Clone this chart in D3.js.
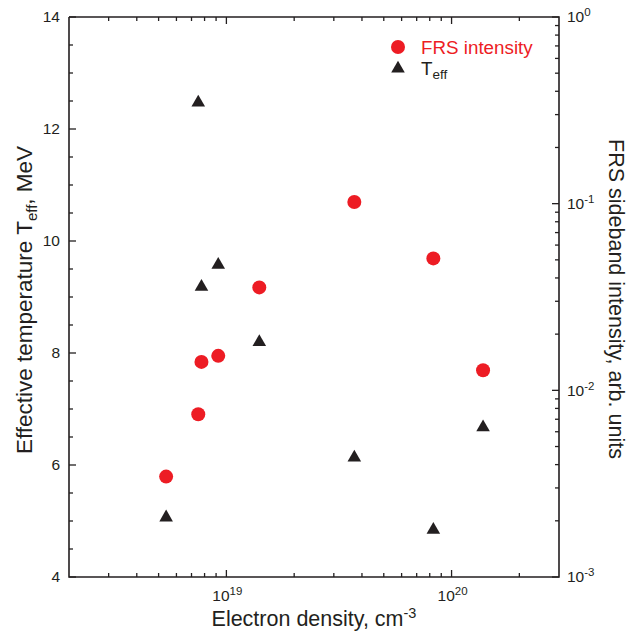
<!DOCTYPE html>
<html>
<head>
<meta charset="utf-8">
<script src="https://cdn.jsdelivr.net/npm/d3@7/dist/d3.min.js"></script>
<style>
  html, body { margin: 0; padding: 0; background: #fff; }
  svg { display: block; font-family: "Liberation Sans", Arial, Helvetica, sans-serif; }
</style>
</head>
<body>
<svg id="chart" width="631" height="633"></svg>
<script>
// ---- data ----
const density = [5.4e18, 7.5e18, 7.75e18, 9.2e18, 1.4e19, 3.7e19, 8.3e19, 1.38e20];
const frsIntensity = [0.00345, 0.00744, 0.0142, 0.0153, 0.0356, 0.102, 0.0509, 0.0128];
const tEff = [5.09, 12.5, 9.21, 9.6, 8.22, 6.16, 4.87, 6.70];

const xMajorExps = [19, 20];
const leftTicks = [4, 6, 8, 10, 12, 14];
const rightMajorExps = [-3, -2, -1, 0];

const xTitle = "Electron density, cm";
const leftTitle = ["Effective temperature T", "eff", ", MeV"];
const rightTitle = "FRS sideband intensity, arb. units";
const legendLabels = ["FRS intensity", "T", "eff"];

// ---- layout ----
const W = 631, H = 633;
const m = { left: 69, right: 72, top: 17, bottom: 56 };
const x0 = m.left, x1 = W - m.right, y0 = H - m.bottom, y1 = m.top;
const RED = "#ed1c24", INK = "#231f20";

const svg = d3.select("#chart");

const x = d3.scaleLog().domain([2e18, 3e20]).range([x0, x1]);
const yL = d3.scaleLinear().domain([4, 14]).range([y0, y1]);
const yR = d3.scaleLog().domain([1e-3, 1]).range([y0, y1]);

// minor tick positions for log axes
function logMinors(domain) {
  const out = [];
  const lo = Math.floor(Math.log10(domain[0])), hi = Math.ceil(Math.log10(domain[1]));
  for (let e = lo; e <= hi; e++) {
    for (let k = 2; k <= 9; k++) {
      const v = k * Math.pow(10, e);
      if (v > domain[0] * 1.0001 && v < domain[1] * 0.9999) out.push(v);
    }
  }
  return out;
}
const xMinor = logMinors(x.domain());
const rMinor = logMinors(yR.domain());
const lMinor = d3.range(4.5, 14, 0.5).filter(v => !leftTicks.includes(v));

const MAJ = 7, MIN = 4;
const g = svg.append("g").attr("stroke", INK).attr("stroke-width", 1.3).attr("fill", "none");

// frame
g.append("path").attr("d", `M${x0},${y1}V${y0}H${x1}V${y1}H${x0}`).attr("stroke-width", 1.6);

// x ticks bottom & top (inward)
xMajorExps.forEach(e => {
  const px = x(Math.pow(10, e));
  g.append("line").attr("x1", px).attr("x2", px).attr("y1", y0).attr("y2", y0 - MAJ);
  g.append("line").attr("x1", px).attr("x2", px).attr("y1", y1).attr("y2", y1 + MAJ);
});
xMinor.forEach(v => {
  const px = x(v);
  g.append("line").attr("x1", px).attr("x2", px).attr("y1", y0).attr("y2", y0 - MIN);
  g.append("line").attr("x1", px).attr("x2", px).attr("y1", y1).attr("y2", y1 + MIN);
});
// left ticks
leftTicks.forEach(v => {
  g.append("line").attr("x1", x0).attr("x2", x0 + MAJ).attr("y1", yL(v)).attr("y2", yL(v));
});
lMinor.forEach(v => {
  g.append("line").attr("x1", x0).attr("x2", x0 + MIN).attr("y1", yL(v)).attr("y2", yL(v));
});
// right ticks
rightMajorExps.forEach(e => {
  const py = yR(Math.pow(10, e));
  g.append("line").attr("x1", x1).attr("x2", x1 - MAJ).attr("y1", py).attr("y2", py);
});
rMinor.forEach(v => {
  g.append("line").attr("x1", x1).attr("x2", x1 - MIN).attr("y1", yR(v)).attr("y2", yR(v));
});

// tick labels
const tl = svg.append("g").attr("fill", INK).attr("font-size", 15.5);
xMajorExps.forEach(e => {
  const t = tl.append("text").attr("x", x(Math.pow(10, e)) + 1).attr("y", 601).attr("text-anchor", "middle");
  t.append("tspan").text("10");
  t.append("tspan").attr("dy", -6).attr("font-size", 11.5).text(String(e));
});
leftTicks.forEach(v => {
  tl.append("text").attr("x", 60).attr("y", yL(v)).attr("dy", "0.35em").attr("text-anchor", "end").text(v);
});
rightMajorExps.forEach(e => {
  const t = tl.append("text").attr("x", 567).attr("y", yR(Math.pow(10, e))).attr("dy", "0.35em");
  t.append("tspan").text("10");
  t.append("tspan").attr("dy", -6).attr("font-size", 11.5).text(String(e));
});

// axis titles
const titleSize = 21.5;
const xt = svg.append("text").attr("x", (x0 + x1) / 2).attr("y", 626).attr("text-anchor", "middle")
  .attr("font-size", titleSize).attr("fill", INK);
xt.append("tspan").text(xTitle);
xt.append("tspan").attr("dy", -8).attr("font-size", 14.5).text("-3");

const lt = svg.append("text").attr("transform", `translate(32,${(y0 + y1) / 2 + 3}) rotate(-90)`)
  .attr("text-anchor", "middle").attr("font-size", 22.5).attr("fill", INK);
lt.append("tspan").text(leftTitle[0]);
lt.append("tspan").attr("dy", 5).attr("font-size", 15).text(leftTitle[1]);
lt.append("tspan").attr("dy", -5).text(leftTitle[2]);

svg.append("text").attr("transform", `translate(609,${(y0 + y1) / 2 + 2}) rotate(90)`)
  .attr("text-anchor", "middle").attr("font-size", titleSize).attr("fill", INK).text(rightTitle);

// data marks
const tri = d3.symbol().type(d3.symbolTriangle).size(80);
const pts = svg.append("g");
pts.selectAll("circle").data(density).join("circle")
  .attr("cx", d => x(d)).attr("cy", (d, i) => yR(frsIntensity[i])).attr("r", 7).attr("fill", RED);
pts.selectAll("path").data(density).join("path")
  .attr("transform", (d, i) => `translate(${x(d)},${yL(tEff[i]) + 1.5})`)
  .attr("d", tri).attr("fill", INK);

// legend
const lg = svg.append("g");
lg.append("circle").attr("cx", 398).attr("cy", 47).attr("r", 7).attr("fill", RED);
lg.append("path").attr("transform", "translate(398,68.5)").attr("d", tri).attr("fill", INK);
lg.append("text").attr("x", 421).attr("y", 54).attr("font-size", 18.8).attr("fill", RED).text(legendLabels[0]);
const lt2 = lg.append("text").attr("x", 421).attr("y", 74.5).attr("font-size", 18.8).attr("fill", INK);
lt2.append("tspan").text(legendLabels[1]);
lt2.append("tspan").attr("dy", 4).attr("font-size", 13.5).text(legendLabels[2]);
</script>
</body>
</html>
